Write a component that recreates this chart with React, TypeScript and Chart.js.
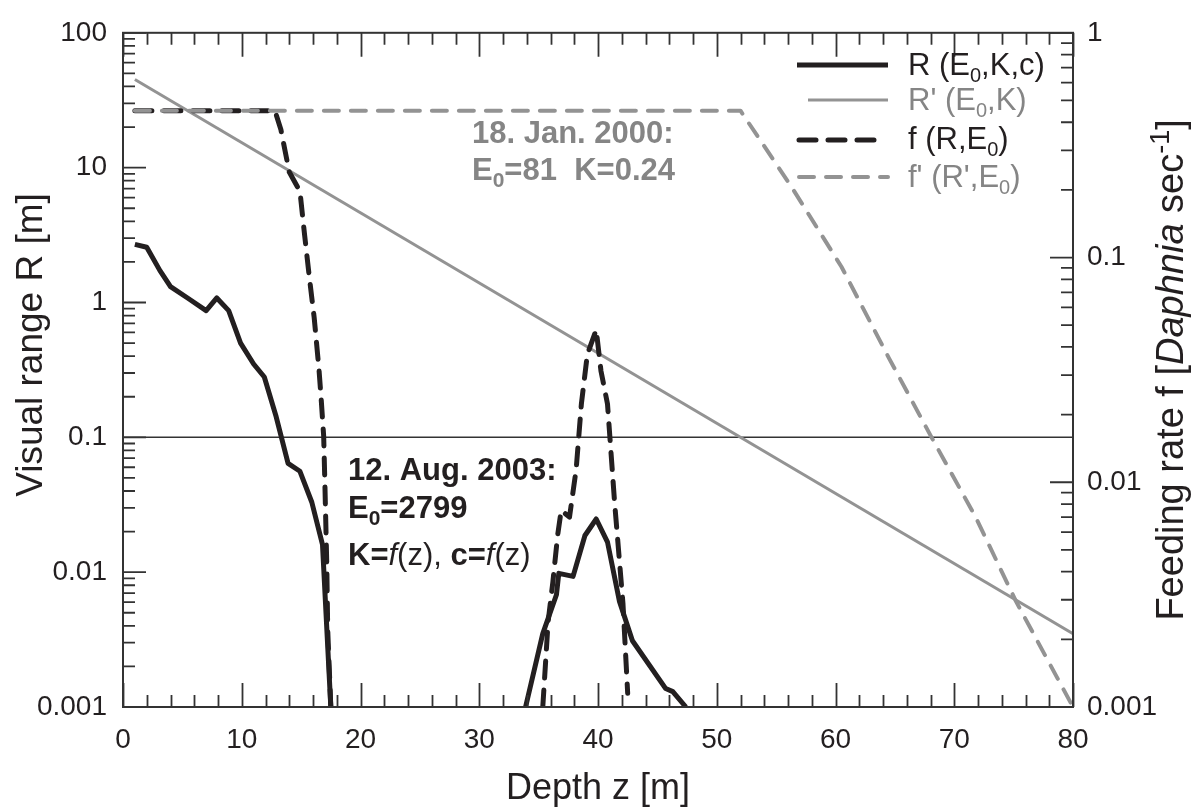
import React, { useEffect, useRef } from "react";
import { Chart, registerables } from "chart.js";
Chart.register(...registerables);

const FONT = "'Liberation Sans', Arial, Helvetica, sans-serif";
const BLACK = "#231f20";
const GRAY = "#939393";
const GRAY_TEXT = "#858585";

// R (E0,K,c) — 12 Aug 2003 (left axis, m)
const rDepthA = [1, 2, 3.1, 4, 5.5, 7, 7.9, 8.9, 9.9, 11, 11.9, 12.9, 13.9, 14.9, 15.9, 16.8, 17.5];
const rValueA = [2.7, 2.57, 1.73, 1.31, 1.07, 0.87, 1.08, 0.87, 0.5, 0.35, 0.28, 0.142, 0.064, 0.056, 0.033, 0.016, 0.001];
const rDepthB = [33.9, 35.35, 36.5, 36.7, 37.9, 38.9, 39.85, 40.8, 41.8, 42.9, 45.7, 46.3, 47.4];
const rValueB = [0.001, 0.0035, 0.0068, 0.0098, 0.0093, 0.0187, 0.0248, 0.0167, 0.0061, 0.0031, 0.00137, 0.0013, 0.001];

// R' (E0,K) — 18 Jan 2000 (left axis, m)
const rPrimeDepth = [1, 80];
const rPrimeValue = [45, 0.0035];

// f (R,E0) — feeding rate (right axis)
const fDepthA = [1, 12.8, 13.3, 14.0, 14.9, 15.3, 15.7, 16.1, 16.5, 16.7, 16.9, 17.0, 17.16, 17.24, 17.5];
const fValueA = [0.45, 0.45, 0.37, 0.24, 0.197, 0.125, 0.081, 0.054, 0.032, 0.023, 0.016, 0.0099, 0.0043, 0.0022, 0.001];
const fDepthB = [35.35, 35.8, 36.2, 36.6, 36.9, 37.6, 38.16, 38.6, 39.1, 39.85, 40.25, 40.8, 41.4, 42.1, 42.5];
const fValueB = [0.001, 0.0024, 0.0036, 0.0058, 0.0075, 0.007, 0.0114, 0.0223, 0.037, 0.0477, 0.0313, 0.0223, 0.0081, 0.0029, 0.00115];

// f' (R',E0) (right axis)
const fPrimeDepth = [1, 52, 56.3, 60.5, 64.5, 68.1, 71.8, 75.2, 80];
const fPrimeValue = [0.45, 0.45, 0.206, 0.091, 0.0357, 0.0158, 0.007, 0.00295, 0.001];

// reference line at R = 0.1 m
const refDepth = [0, 80];
const refValue = [0.1, 0.1];

const leftTickLabels = ["0.001", "0.01", "0.1", "1", "10", "100"];
const rightTickLabels = ["0.001", "0.01", "0.1", "1"];

const pts = (xs: number[], ys: number[]) => xs.map((x, i) => ({ x, y: ys[i] }));

type Part = { t: string; size: number; weight?: string; italic?: boolean; dy?: number };

function setFont(ctx: CanvasRenderingContext2D, p: Part) {
  ctx.font = `${p.italic ? "italic " : ""}${p.weight || "normal"} ${p.size}px ${FONT}`;
}
function richWidth(ctx: CanvasRenderingContext2D, parts: Part[]) {
  let w = 0;
  for (const p of parts) {
    setFont(ctx, p);
    w += ctx.measureText(p.t).width;
  }
  return w;
}
function drawRich(ctx: CanvasRenderingContext2D, x: number, y: number, parts: Part[], color: string) {
  let cx = x;
  ctx.fillStyle = color;
  ctx.textBaseline = "alphabetic";
  ctx.textAlign = "left";
  for (const p of parts) {
    setFont(ctx, p);
    ctx.fillText(p.t, cx, y + (p.dy || 0));
    cx += ctx.measureText(p.t).width;
  }
}

function logLabel(labels: string[], offset: number) {
  return (v: any) => {
    const l = Math.log10(Number(v));
    const r = Math.round(l);
    if (Math.abs(l - r) > 1e-6) return "";
    return labels[r + offset] ?? "";
  };
}

const decor = {
  id: "decor",
  afterDraw(chart: any) {
    const { ctx, chartArea: a, scales } = chart;
    const x = scales.x, y = scales.y, y2 = scales.y2;
    ctx.save();
    // inward ticks
    ctx.strokeStyle = "#333";
    ctx.lineWidth = 1.8;
    ctx.beginPath();
    for (let v = 0; v <= 80; v += 2) {
      const px = Math.round(x.getPixelForValue(v)) + 0.5;
      const len = v % 10 === 0 ? 24 : 12;
      ctx.moveTo(px, a.bottom);
      ctx.lineTo(px, a.bottom - len);
      ctx.moveTo(px, a.top);
      ctx.lineTo(px, a.top + len);
    }
    for (let d = -3; d <= 2; d++) {
      for (let m = 1; m <= 9; m++) {
        const v = m * Math.pow(10, d);
        if (v > 100.0001) continue;
        const py = y.getPixelForValue(v);
        ctx.moveTo(a.left, py);
        ctx.lineTo(a.left + (m === 1 ? 23 : 12), py);
      }
    }
    for (let d = -3; d <= 0; d++) {
      for (let m = 1; m <= 9; m++) {
        const v = m * Math.pow(10, d);
        if (v > 1.0001) continue;
        const py = y2.getPixelForValue(v);
        ctx.moveTo(a.right, py);
        ctx.lineTo(a.right - (m === 1 ? 23 : 12), py);
      }
    }
    ctx.stroke();
    // frame
    ctx.lineWidth = 2;
    ctx.strokeRect(a.left, a.top, a.right - a.left, a.bottom - a.top);

    // legend
    const lx0 = 797;
    const tx = 908;
    const drawSample = (yy: number, x1: number, color: string, w: number, dash: number[]) => {
      ctx.save();
      ctx.strokeStyle = color;
      ctx.lineWidth = w;
      ctx.lineCap = dash.length ? "round" : "butt";
      ctx.setLineDash(dash);
      ctx.beginPath();
      ctx.moveTo(lx0 + (dash.length ? 2 : 0), yy);
      ctx.lineTo(x1, yy);
      ctx.stroke();
      ctx.restore();
    };
    const LS = 31, SS = 20;
    drawSample(65, 888, BLACK, 5, []);
    drawRich(ctx, tx, 75, [{ t: "R (E", size: LS }, { t: "0", size: SS, dy: 7 }, { t: ",K,c)", size: LS }], BLACK);
    ctx.save();
    ctx.strokeStyle = GRAY; ctx.lineWidth = 3;
    ctx.beginPath(); ctx.moveTo(808, 100); ctx.lineTo(888, 100); ctx.stroke();
    ctx.restore();
    drawRich(ctx, tx, 110, [{ t: "R' (E", size: LS }, { t: "0", size: SS, dy: 7 }, { t: ",K)", size: LS }], GRAY_TEXT);
    drawSample(140, 875, BLACK, 5, [17, 12]);
    drawRich(ctx, tx, 149, [{ t: "f (R,E", size: LS }, { t: "0", size: SS, dy: 7 }, { t: ")", size: LS }], BLACK);
    drawSample(177, 888, GRAY, 4, [15, 12]);
    drawRich(ctx, tx, 187, [{ t: "f' (R',E", size: LS }, { t: "0", size: SS, dy: 7 }, { t: ")", size: LS }], GRAY_TEXT);

    // annotations
    const AS = 31, AB = "bold";
    drawRich(ctx, 472, 143, [{ t: "18. Jan. 2000:", size: AS, weight: AB }], GRAY_TEXT);
    drawRich(ctx, 472, 180, [
      { t: "E", size: AS, weight: AB },
      { t: "0", size: 21, weight: AB, dy: 7 },
      { t: "=81  K=0.24", size: AS, weight: AB },
    ], GRAY_TEXT);
    drawRich(ctx, 348, 480, [{ t: "12. Aug. 2003:", size: AS, weight: AB }], BLACK);
    drawRich(ctx, 348, 518, [
      { t: "E", size: AS, weight: AB },
      { t: "0", size: 21, weight: AB, dy: 7 },
      { t: "=2799", size: AS, weight: AB },
    ], BLACK);
    drawRich(ctx, 348, 565, [
      { t: "K=", size: AS, weight: AB },
      { t: "f", size: AS, italic: true },
      { t: "(z), ", size: AS },
      { t: "c=", size: AS, weight: AB },
      { t: "f", size: AS, italic: true },
      { t: "(z)", size: AS },
    ], BLACK);

    // axis titles
    const xt: Part[] = [{ t: "Depth z [m]", size: 36 }];
    drawRich(ctx, (a.left + a.right) / 2 - richWidth(ctx, xt) / 2, 799, xt, BLACK);

    const lt: Part[] = [{ t: "Visual range R [m]", size: 37 }];
    ctx.save();
    ctx.translate(42, 345);
    ctx.rotate(-Math.PI / 2);
    drawRich(ctx, -richWidth(ctx, lt) / 2, 0, lt, BLACK);
    ctx.restore();

    const rt: Part[] = [
      { t: "Feeding rate f [", size: 38 },
      { t: "Daphnia", size: 38, italic: true },
      { t: " sec", size: 38 },
      { t: "-1", size: 27, dy: -14 },
      { t: "]", size: 38 },
    ];
    ctx.save();
    ctx.translate(1183, (a.top + a.bottom) / 2);
    ctx.rotate(-Math.PI / 2);
    drawRich(ctx, -richWidth(ctx, rt) / 2, 0, rt, BLACK);
    ctx.restore();

    ctx.restore();
  },
};

export default function App() {
  const ref = useRef<HTMLCanvasElement>(null);
  useEffect(() => {
    if (!ref.current) return;
    Chart.defaults.font.family = FONT;
    const chart = new Chart(ref.current, {
      type: "line",
      data: {
        datasets: [
          {
            data: pts(fPrimeDepth, fPrimeValue),
            yAxisID: "y2",
            borderColor: GRAY,
            borderWidth: 4,
            borderDash: [15, 12],
            borderCapStyle: "round",
            order: 1,
          },
          {
            data: pts(rDepthA, rValueA),
            yAxisID: "y",
            borderColor: BLACK,
            borderWidth: 5,
            order: 2,
          },
          {
            data: pts(rDepthB, rValueB),
            yAxisID: "y",
            borderColor: BLACK,
            borderWidth: 5,
            order: 2,
          },
          {
            data: pts(fDepthA, fValueA),
            yAxisID: "y2",
            borderColor: BLACK,
            borderWidth: 5,
            borderDash: [17, 12],
            borderCapStyle: "round",
            order: 3,
          },
          {
            data: pts(fDepthB, fValueB),
            yAxisID: "y2",
            borderColor: BLACK,
            borderWidth: 5,
            borderDash: [17, 12],
            borderCapStyle: "round",
            order: 3,
          },
          {
            data: pts(rPrimeDepth, rPrimeValue),
            yAxisID: "y",
            borderColor: GRAY,
            borderWidth: 3,
            order: 4,
          },
          {
            data: pts(refDepth, refValue),
            yAxisID: "y",
            borderColor: "#333",
            borderWidth: 1.5,
            order: 5,
          },
        ] as any,
      },
      options: {
        animation: false,
        responsive: false,
        devicePixelRatio: 1,
        layout: { padding: { top: 24, left: 0, right: 0, bottom: 0 } },
        elements: {
          point: { radius: 0 },
          line: { tension: 0, borderJoinStyle: "round", fill: false },
        },
        plugins: { legend: { display: false }, tooltip: { enabled: false } },
        scales: {
          x: {
            type: "linear",
            position: "bottom",
            min: 0,
            max: 80,
            grid: { display: false, drawTicks: false },
            border: { display: false },
            ticks: { stepSize: 10, color: BLACK, font: { size: 28 }, padding: 16, maxRotation: 0 },
            afterFit: (s: any) => { s.height = 101; },
          },
          y: {
            type: "logarithmic",
            position: "left",
            min: 0.001,
            max: 100,
            grid: { display: false, drawTicks: false },
            border: { display: false },
            ticks: { autoSkip: false, color: BLACK, font: { size: 28 }, padding: 16, callback: logLabel(leftTickLabels, 3) },
            afterFit: (s: any) => { s.width = 123; },
          },
          y2: {
            type: "logarithmic",
            position: "right",
            min: 0.001,
            max: 1,
            grid: { display: false, drawTicks: false },
            border: { display: false },
            ticks: { autoSkip: false, color: BLACK, font: { size: 28 }, padding: 14, callback: logLabel(rightTickLabels, 3) },
            afterFit: (s: any) => { s.width = 119; },
          },
        },
      } as any,
      plugins: [decor],
    });
    return () => chart.destroy();
  }, []);
  return (
    <div style={{ position: "fixed", left: 0, top: 0, width: 1192, height: 808, background: "#fff" }}>
      <canvas ref={ref} width={1192} height={808} />
    </div>
  );
}
